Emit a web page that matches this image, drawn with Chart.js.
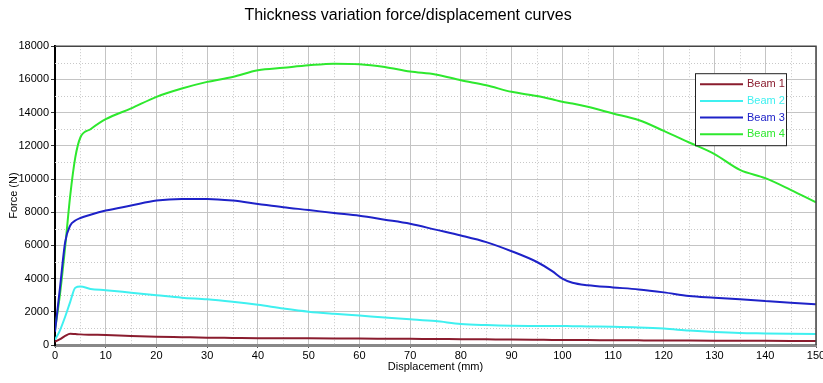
<!DOCTYPE html>
<html>
<head>
<meta charset="utf-8">
<script src="https://cdn.jsdelivr.net/npm/chart.js@4.4.0/dist/chart.umd.min.js"></script>
<style>
  body { margin: 0; background: #fff; }
  #wrap { width: 823px; height: 383px; }
</style>
</head>
<body>
<div id="wrap"><canvas id="forceChart" width="823" height="383"></canvas></div>
<script>
// displacement samples (mm), shared by all beams
const displacement = [0, 1, 2, 3, 4, 5, 7, 10, 15, 20, 25, 30, 35, 40, 45, 50, 55, 60, 65, 70, 75, 80, 85, 90, 95, 98, 100, 102, 105, 110, 115, 120, 125, 130, 135, 140, 145, 150];
const beam1 = [200, 350, 550, 680, 660, 640, 620, 600, 540, 500, 470, 440, 425, 410, 405, 400, 395, 390, 380, 370, 360, 350, 340, 330, 315, 305, 300, 300, 295, 290, 280, 270, 265, 260, 255, 250, 245, 240];
const beam2 = [300, 900, 1700, 2600, 3450, 3520, 3380, 3300, 3150, 3000, 2850, 2750, 2600, 2420, 2200, 2010, 1880, 1770, 1650, 1550, 1440, 1270, 1200, 1160, 1150, 1145, 1140, 1135, 1120, 1100, 1060, 990, 870, 780, 720, 700, 680, 660];
const beam3 = [800, 3500, 6200, 7200, 7500, 7650, 7850, 8100, 8400, 8700, 8800, 8800, 8700, 8500, 8300, 8130, 7950, 7790, 7550, 7300, 6950, 6600, 6200, 5650, 5000, 4450, 4000, 3750, 3600, 3470, 3350, 3170, 2950, 2850, 2750, 2650, 2550, 2450];
const beam4 = [900, 3100, 5900, 9000, 11300, 12500, 13000, 13600, 14250, 14950, 15450, 15850, 16150, 16550, 16700, 16850, 16950, 16920, 16750, 16470, 16300, 15950, 15650, 15250, 15000, 14800, 14650, 14550, 14350, 13950, 13550, 12900, 12200, 11500, 10550, 10050, 9350, 8600];
const seriesNames = ["Beam 1", "Beam 2", "Beam 3", "Beam 4"];
const seriesColors = ["#8a1c2e", "#3ff0f0", "#1e22c8", "#2ee82e"];

function toPoints(vals) {
  return vals.map((v, i) => ({ x: displacement[i], y: v }));
}

// dotted minor grid at half steps
const minorGrid = {
  id: "minorGrid",
  beforeDatasetsDraw(chart) {
    const { ctx, chartArea: a, scales } = chart;
    ctx.save();
    ctx.strokeStyle = "#c8c8c8";
    ctx.lineWidth = 1;
    ctx.setLineDash([1, 2]);
    for (let v = 5; v < 150; v += 10) {
      const px = Math.round(scales.x.getPixelForValue(v)) + 0.5;
      ctx.beginPath(); ctx.moveTo(px, a.top); ctx.lineTo(px, a.bottom); ctx.stroke();
    }
    for (let v = 1000; v < 18000; v += 2000) {
      const py = Math.round(scales.y.getPixelForValue(v)) + 0.5;
      ctx.beginPath(); ctx.moveTo(a.left, py); ctx.lineTo(a.right, py); ctx.stroke();
    }
    ctx.restore();
  },
  afterDatasetsDraw(chart) {
    const { ctx, chartArea: a } = chart;
    ctx.save();
    ctx.strokeStyle = "#444";
    ctx.lineWidth = 1.5;
    ctx.beginPath();
    ctx.moveTo(a.left, a.top); ctx.lineTo(a.right, a.top); ctx.lineTo(a.right, a.bottom);
    ctx.stroke();
    ctx.restore();
  }
};

// boxed legend inside the plot, top right
const boxLegend = {
  id: "boxLegend",
  afterDraw(chart) {
    const { ctx, chartArea: a } = chart;
    const w = 91, h = 72;
    const x0 = a.right - 30 - w, y0 = a.top + 27;
    ctx.save();
    ctx.fillStyle = "#fff";
    ctx.fillRect(x0, y0, w, h);
    ctx.strokeStyle = "#222";
    ctx.lineWidth = 1;
    ctx.strokeRect(x0 + 0.5, y0 + 0.5, w, h);
    ctx.font = "11px 'Liberation Sans', Arial, sans-serif";
    ctx.textBaseline = "middle";
    chart.data.datasets.forEach((ds, i) => {
      const y = y0 + 11 + i * 16.7;
      ctx.strokeStyle = ds.borderColor;
      ctx.lineWidth = 2;
      ctx.beginPath(); ctx.moveTo(x0 + 5, y); ctx.lineTo(x0 + 48, y); ctx.stroke();
      ctx.fillStyle = ds.borderColor;
      ctx.fillText(ds.label, x0 + 52, y);
    });
    ctx.restore();
  }
};

const tickFont = { family: "'Liberation Sans', Arial, sans-serif", size: 11 };

new Chart(document.getElementById("forceChart"), {
  type: "line",
  data: {
    datasets: [beam1, beam2, beam3, beam4].map((vals, i) => ({
      label: seriesNames[i],
      data: toPoints(vals),
      borderColor: seriesColors[i],
      borderWidth: 2,
      pointRadius: 0,
      cubicInterpolationMode: "monotone",
      fill: false
    }))
  },
  options: {
    responsive: false,
    animation: false,
    layout: { padding: { left: 0, right: 7, top: 0, bottom: 8 } },
    plugins: {
      legend: { display: false },
      tooltip: { enabled: false },
      title: {
        display: true,
        text: "Thickness variation force/displacement curves",
        color: "#000",
        font: { family: "'Liberation Sans', Arial, sans-serif", size: 16, weight: "normal" },
        padding: { top: 6, bottom: 21 }
      }
    },
    scales: {
      x: {
        type: "linear",
        min: 0,
        max: 150,
        ticks: { stepSize: 10, color: "#000", font: tickFont, padding: 1, maxRotation: 0, callback: v => String(v) },
        grid: { color: "#c4c4c4", lineWidth: 1, tickLength: 3, tickColor: "#555" },
        border: { color: "#888", width: 3 },
        title: { display: true, text: "Displacement (mm)", color: "#000", font: tickFont, padding: { top: 0, bottom: 1 } },
        afterFit(s) { s.height = 30; s.paddingLeft = 0; s.paddingRight = 0; }
      },
      y: {
        min: 0,
        max: 18000,
        ticks: { stepSize: 2000, color: "#000", font: tickFont, padding: 2, callback: v => String(v) },
        grid: { color: "#c4c4c4", lineWidth: 1, tickLength: 4, tickColor: "#333" },
        border: { color: "#000", width: 2 },
        title: { display: true, text: "Force (N)", color: "#000", font: tickFont, padding: { top: 7, bottom: 0 } },
        afterFit(s) { s.width = 55; }
      }
    }
  },
  plugins: [minorGrid, boxLegend]
});
</script>
</body>
</html>
